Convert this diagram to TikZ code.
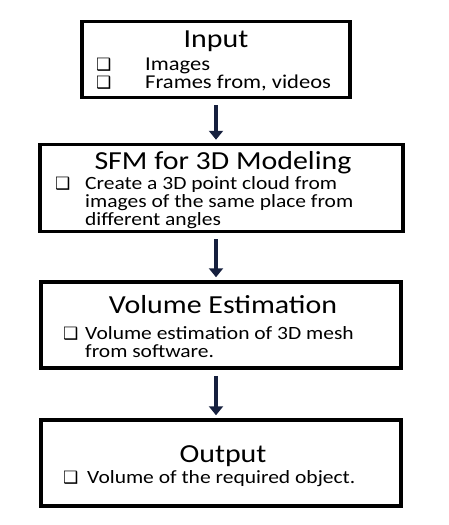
\documentclass[tikz,border=0pt]{standalone}
\usepackage{fontspec}
\setmainfont[FakeStretch=1.15]{Carlito}
\newfontfamily\symfont{DejaVu Sans}
\usetikzlibrary{arrows.meta}

\definecolor{arrownavy}{RGB}{22,32,62}
\newcommand{\chk}{{\symfont\fontsize{17}{17}\selectfont ❑}}

\tikzset{
  stage/.style={draw, line width=3.5pt, inner sep=0pt},
  stagetitle/.style={anchor=base, inner sep=0pt, font=\fontsize{26}{26}\selectfont},
  stageitems/.style={anchor=base west, inner sep=0pt, align=left, font=\fontsize{18.7}{18}\selectfont},
  flow/.style={draw=arrownavy, line width=4.5pt, -{Triangle[width=14pt,length=9pt]}, shorten <=6pt, shorten >=3pt}
}

\begin{document}
\begin{tikzpicture}[x=1pt,y=-1pt]
  \useasboundingbox (0,0) rectangle (448,525);
  % the four stages
  \node [stage, minimum width=268pt, minimum height=76pt] (input) at (216,59.5) {};
  \node [stage, minimum width=363pt, minimum height=87pt] (sfm) at (221.5,188) {};
  \node [stage, minimum width=360pt, minimum height=86pt] (volume) at (221,325) {};
  \node [stage, minimum width=360pt, minimum height=86pt] (output) at (221,463) {};

  % titles
  \node [stagetitle] (inputtitle) at (216,47) {Input};
  \node [stagetitle] (sfmtitle) at (223,169) {SFM for 3D Modeling};
  \node [stagetitle] (volumetitle) at (223,313) {Volume Estimation};
  \node [stagetitle] (outputtitle) at (223,462) {Output};

  % bullet lists (anchored on their last line)
  \node [stageitems, font=\fontsize{19.6}{18}\selectfont] (inputlist) at (96,88) {\makebox[49pt][l]{\chk}Images\\\makebox[49pt][l]{\chk}Frames from, videos};
  \node [stageitems] (sfmlist) at (55,225) {\makebox[30pt][l]{\chk}Create a 3D point cloud from\\\hspace*{30pt}images of the same place from\\\hspace*{30pt}different angles};
  \node [stageitems] (volumelist) at (63,357) {\makebox[22pt][l]{\chk}Volume estimation of 3D mesh\\\hspace*{22pt}from software.};
  \node [stageitems] (outputlist) at (63,483) {\makebox[24pt][l]{\chk}Volume of the required object.};

  % arrows
  \draw [flow] (input.south) -- (input.south |- sfm.north);
  \draw [flow] (input.south |- sfm.south) -- (input.south |- volume.north);
  \draw [flow] (input.south |- volume.south) -- (input.south |- output.north);
\end{tikzpicture}
\end{document}
